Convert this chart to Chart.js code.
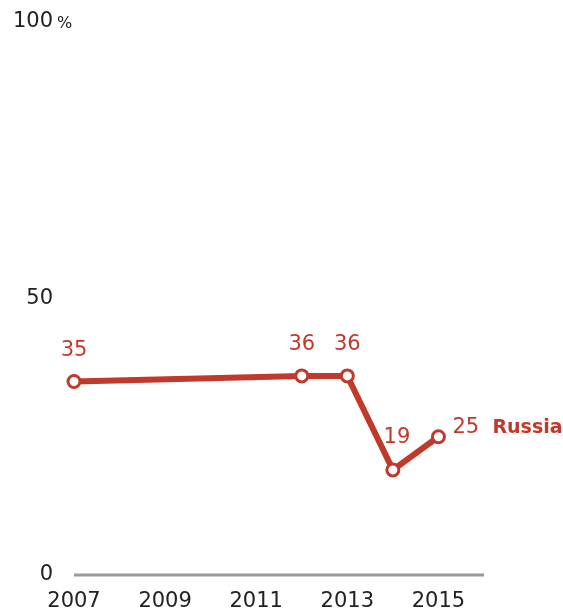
<!DOCTYPE html>
<html>
<head>
<meta charset="utf-8">
<script src="https://cdn.jsdelivr.net/npm/chart.js@4"></script>
<style>
  html, body { margin: 0; padding: 0; background: #fff; }
  #wrap { width: 563px; height: 614px; position: relative; }
</style>
</head>
<body>
<div id="wrap"><canvas id="chart"></canvas></div>
<script>
// chart data
const years = [2007, 2012, 2013, 2014, 2015];
const russia = [35, 36, 36, 19, 25];
const xTicks = [2007, 2009, 2011, 2013, 2015];
const yTicks = [0, 50, 100];
const seriesName = 'Russia';

const red = '#c0392b';
const font = '"DejaVu Sans", sans-serif';

// draws axis line, tick labels and value labels using the chart's scales
const decorations = {
    id: 'decorations',
    afterDatasetsDraw(chart) {
        const ctx = chart.ctx;
        const xs = chart.scales.x;
        const ys = chart.scales.y;
        ctx.save();

        // baseline
        ctx.strokeStyle = '#999';
        ctx.lineWidth = 3;
        ctx.beginPath();
        ctx.moveTo(chart.chartArea.left, ys.getPixelForValue(0));
        ctx.lineTo(chart.chartArea.right, ys.getPixelForValue(0));
        ctx.stroke();

        // y labels
        ctx.fillStyle = '#222';
        ctx.textBaseline = 'middle';
        yTicks.forEach(v => {
            const y = ys.getPixelForValue(v);
            ctx.font = '21px ' + font;
            ctx.textAlign = 'right';
            ctx.fillText(String(v), 53, y);
            if (v === 100) {
                ctx.font = '16px ' + font;
                ctx.textAlign = 'left';
                ctx.fillText('%', 57, y + 2);
            }
        });

        // x labels
        ctx.font = '21px ' + font;
        ctx.textAlign = 'center';
        xTicks.forEach(v => {
            ctx.fillText(String(v), xs.getPixelForValue(v), 602);
        });

        // value labels
        const pts = chart.getDatasetMeta(0).data;
        ctx.fillStyle = red;
        pts.forEach((p, i) => {
            let dx = 0, dy = -31, align = 'center';
            if (i === 3) { dx = 4; dy = -32; }
            if (i === russia.length - 1) { dx = 14; dy = -9; align = 'left'; }
            ctx.font = '21px ' + font;
            ctx.textAlign = align;
            ctx.fillText(String(russia[i]), p.x + dx, p.y + dy);
            if (i === russia.length - 1) {
                ctx.font = 'bold 19px ' + font;
                ctx.fillText(seriesName, p.x + 54, p.y + dy);
            }
        });
        ctx.restore();
    }
};

new Chart(document.getElementById('chart'), {
    type: 'line',
    data: {
        datasets: [{
            label: seriesName,
            data: years.map((y, i) => ({ x: y, y: russia[i] })),
            borderColor: red,
            borderWidth: 6,
            pointRadius: 6,
            pointBorderWidth: 3,
            pointBackgroundColor: '#fff',
            pointBorderColor: red,
            tension: 0,
            clip: false
        }]
    },
    options: {
        responsive: true,
        maintainAspectRatio: false,
        animation: false,
        layout: { padding: { left: 74, right: 79, top: 22, bottom: 39 } },
        plugins: { legend: { display: false }, tooltip: { enabled: false } },
        scales: {
            x: { type: 'linear', min: 2007, max: 2016, display: false },
            y: { min: 0, max: 100, display: false }
        }
    },
    plugins: [decorations]
});
</script>
</body>
</html>
